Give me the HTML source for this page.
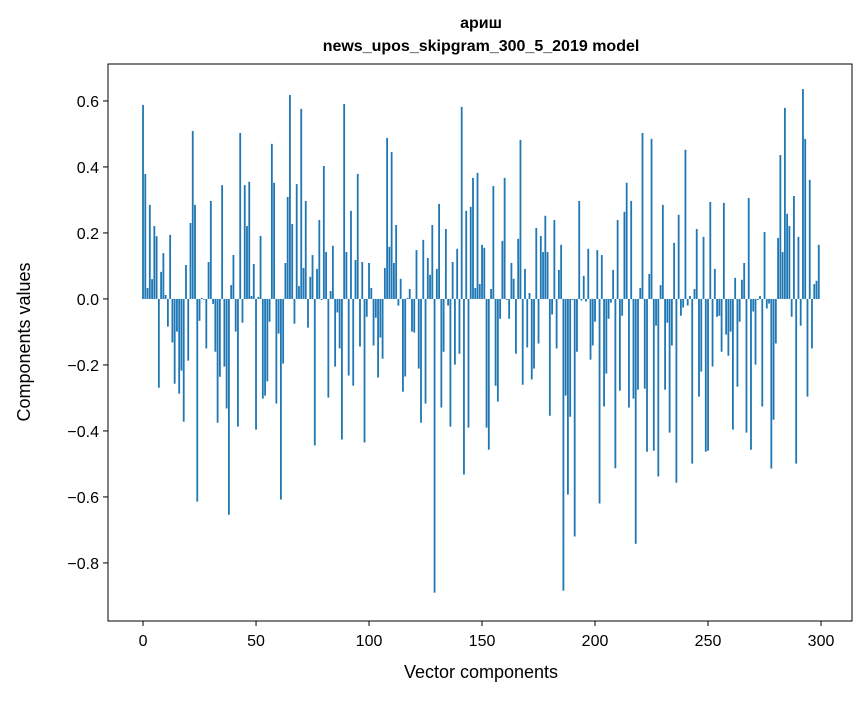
<!DOCTYPE html>
<html><head><meta charset="utf-8"><style>
body{margin:0;background:#fff;}
svg text{font-family:"Liberation Sans","DejaVu Sans",sans-serif;fill:#000;}
</style></head><body>
<svg id="chart" width="867" height="696" xmlns="http://www.w3.org/2000/svg">
<text x="481" y="28" text-anchor="middle" font-size="16" font-weight="bold">ариш</text>
<text x="481" y="51" text-anchor="middle" font-size="16" font-weight="bold">news_upos_skipgram_300_5_2019 model</text>
<g id="bars"></g>
<g id="axes"></g>
<text x="481" y="678" text-anchor="middle" font-size="18">Vector components</text>
<text transform="translate(30,342) rotate(-90)" text-anchor="middle" font-size="18">Components values</text>
</svg>
<script>
const values = [
0.588,0.379,0.033,0.285,0.06,0.221,0.19,-0.269,0.082,0.139,
0.012,-0.084,0.194,-0.132,-0.257,-0.099,-0.287,-0.217,-0.372,0.103,
-0.187,0.23,0.509,0.285,-0.614,-0.066,0.003,-0.002,-0.15,0.112,
0.297,-0.015,-0.16,-0.375,-0.236,0.345,-0.205,-0.332,-0.654,0.042,
0.133,-0.099,-0.387,0.503,-0.072,0.345,0.221,0.355,0.009,0.106,
-0.396,0.006,0.191,-0.302,-0.293,-0.25,-0.069,0.47,0.352,-0.317,
-0.105,-0.608,-0.196,0.109,0.309,0.618,0.227,-0.075,0.348,0.039,
0.576,0.094,0.297,-0.087,0.067,0.133,-0.444,0.091,0.239,-0.003,
0.403,0.142,-0.299,0.024,0.161,-0.205,-0.041,-0.15,-0.426,0.591,
0.142,-0.232,0.267,-0.263,0.118,0.379,-0.144,0.112,-0.435,-0.054,
0.109,0.033,-0.141,-0.057,-0.238,-0.117,-0.181,0.094,0.488,0.158,
0.445,0.109,0.224,-0.02,0.061,-0.281,-0.235,0.003,0.03,-0.099,
-0.102,0.148,-0.211,-0.375,0.179,-0.317,0.124,0.073,0.224,-0.89,
0.091,0.288,-0.329,-0.16,0.212,-0.02,-0.387,0.112,-0.199,0.152,
-0.166,0.582,-0.532,0.267,-0.39,0.279,0.367,0.033,0.382,0.045,
0.164,0.155,-0.39,-0.457,0.03,0.342,-0.263,-0.311,-0.06,0.176,
0.367,-0.003,-0.06,0.109,0.061,-0.166,0.182,0.482,-0.26,0.091,
-0.147,0.018,-0.244,-0.211,0.215,-0.135,0.191,0.142,0.252,0.142,
-0.354,-0.047,0.239,-0.15,0.088,0.164,-0.884,-0.293,-0.593,-0.357,
-0.003,-0.72,-0.16,0.297,-0.005,0.07,-0.008,0.152,-0.184,-0.141,
-0.069,0.148,-0.62,0.133,-0.326,-0.226,-0.06,-0.011,0.088,-0.513,
0.239,-0.278,-0.051,0.264,0.352,-0.329,0.297,-0.302,-0.742,-0.275,
0.033,0.503,-0.272,-0.463,0.076,0.485,-0.46,-0.081,-0.538,0.042,
0.285,-0.275,-0.072,-0.405,-0.141,0.17,-0.557,0.255,-0.051,-0.026,
0.452,-0.02,0.009,-0.499,0.03,0.212,-0.296,-0.22,0.188,-0.463,
-0.46,0.294,-0.205,0.091,-0.054,-0.051,-0.16,0.291,-0.108,-0.172,
-0.099,-0.396,0.064,-0.266,-0.069,0.058,0.109,-0.405,0.306,-0.457,
-0.038,-0.199,-0.003,0.009,-0.326,0.203,-0.029,-0.014,-0.514,-0.366,
-0.135,0.185,0.436,0.142,0.579,0.258,0.221,-0.054,0.312,-0.499,
0.188,-0.081,0.636,0.485,-0.296,0.361,-0.15,0.045,0.055,0.164
];
const xTicks = [0,50,100,150,200,250,300];
const yTicks = [-0.8,-0.6,-0.4,-0.2,0.0,0.2,0.4,0.6];
const yTickLabels = ["\u22120.8","\u22120.6","\u22120.4","\u22120.2","0.0","0.2","0.4","0.6"];

const L=108,R=852,T=64,B=621;
const xMin=-15.5,xMax=313.7,yMin=-0.976,yMax=0.712;
const xs=v=>L+(v-xMin)/(xMax-xMin)*(R-L);
const ys=v=>B-(v-yMin)/(yMax-yMin)*(B-T);
const NS="http://www.w3.org/2000/svg";
const bars=document.getElementById('bars');
values.forEach((v,i)=>{
  const r=document.createElementNS(NS,'rect');
  const x0=xs(i-0.4),x1=xs(i+0.4);
  const y0=ys(Math.max(v,0)),y1=ys(Math.min(v,0));
  r.setAttribute('x',x0);r.setAttribute('width',x1-x0);
  r.setAttribute('y',y0);r.setAttribute('height',Math.max(y1-y0,0.3));
  r.setAttribute('fill','#1f77b4');
  
  
  bars.appendChild(r);
});
const ax=document.getElementById('axes');
const frame=document.createElementNS(NS,'rect');
frame.setAttribute('x',L);frame.setAttribute('y',T);frame.setAttribute('width',R-L);frame.setAttribute('height',B-T);
frame.setAttribute('fill','none');frame.setAttribute('stroke','#000');frame.setAttribute('stroke-width','1');


ax.appendChild(frame);
xTicks.forEach(t=>{
  const x=xs(t);
  const l=document.createElementNS(NS,'line');
  l.setAttribute('x1',x);l.setAttribute('x2',x);l.setAttribute('y1',B);l.setAttribute('y2',B+5);l.setAttribute('stroke','#000');
  
  
  ax.appendChild(l);
  const tx=document.createElementNS(NS,'text');
  tx.setAttribute('x',x);tx.setAttribute('y',B+25);tx.setAttribute('text-anchor','middle');tx.setAttribute('font-size','16');
  tx.textContent=t;
  
  
  ax.appendChild(tx);
});
yTicks.forEach((t,i)=>{
  const y=ys(t);
  const l=document.createElementNS(NS,'line');
  l.setAttribute('x1',L-5);l.setAttribute('x2',L);l.setAttribute('y1',y);l.setAttribute('y2',y);l.setAttribute('stroke','#000');
  
  
  ax.appendChild(l);
  const tx=document.createElementNS(NS,'text');
  tx.setAttribute('x',L-9);tx.setAttribute('y',y+6);tx.setAttribute('text-anchor','end');tx.setAttribute('font-size','16');
  tx.textContent=yTickLabels[i];
  
  
  ax.appendChild(tx);
});
</script>
</body></html>
